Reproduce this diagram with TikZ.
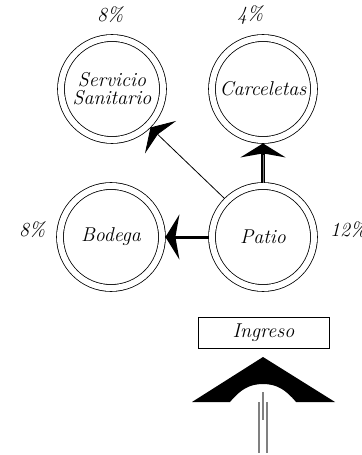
\documentclass[tikz,border=0pt]{standalone}
\usepackage{fontspec}
\usetikzlibrary{arrows.meta}
\begin{document}
\begin{tikzpicture}[x=1bp,y=-1bp,
  txt/.style={font=\itshape\fontsize{20bp}{18bp}\selectfont},
  room/.style={circle,draw,line width=0.8bp,double,double distance=6bp,minimum size=102bp,inner sep=0pt,outer sep=3.4bp,txt,align=center},
  pct/.style={txt,inner sep=0pt},
  bigtip/.style={-{Stealth[length=14bp,width=45bp,inset=4bp]}},
  graylin/.style={draw=gray,line width=1.5bp}
]
\useasboundingbox (0,0) rectangle (361,455);
% rooms
\node[room] (serv) at (112,89) {Servicio\\Sanitario};
\node[room] (carc) at (263,89) {Carceletas};
\node[room] (bod) at (111,237) {Bodega};
\node[room] (pat) at (263,237) {Patio};
% percentages
\node[pct] (p1) at (110,15) {8\%};
\node[pct] (p2) at (250,15) {4\%};
\node[pct] (p3) at (32,230) {8\%};
\node[pct,anchor=west] (p4) at (330,230) {12\%};
% connectors
\draw[bigtip,line width=0.8bp] (pat.135) -- (serv.-45);
\draw[bigtip,line width=3bp] (pat.west) -- (bod.east);
\draw[bigtip,line width=4.5bp] (pat.north) -- (carc.south);
\draw[gray,line width=1bp,shorten >=12bp] (pat.north) -- (carc.south);
% ingreso
\node[draw,line width=0.8bp,minimum width=131bp,minimum height=31bp,inner sep=0pt,txt] (ing) at (263.5,332.5) {Ingreso};
\fill (192,402) -- (263,357) -- (335,402) -- (296,402)
  .. controls (286,390) and (277,384) .. (263,384)
  .. controls (249,384) and (240,390) .. (230,402) -- cycle;
\coordinate (g1a) at (259,402); \coordinate (g1b) at (259,453);
\coordinate (g2a) at (267,402); \coordinate (g2b) at (267,453);
\coordinate (g3a) at (263,392); \coordinate (g3b) at (263,420);
\draw[graylin] (g1a) -- (g1b);
\draw[graylin] (g2a) -- (g2b);
\draw[graylin] (g3a) -- (g3b);
\end{tikzpicture}
\end{document}
